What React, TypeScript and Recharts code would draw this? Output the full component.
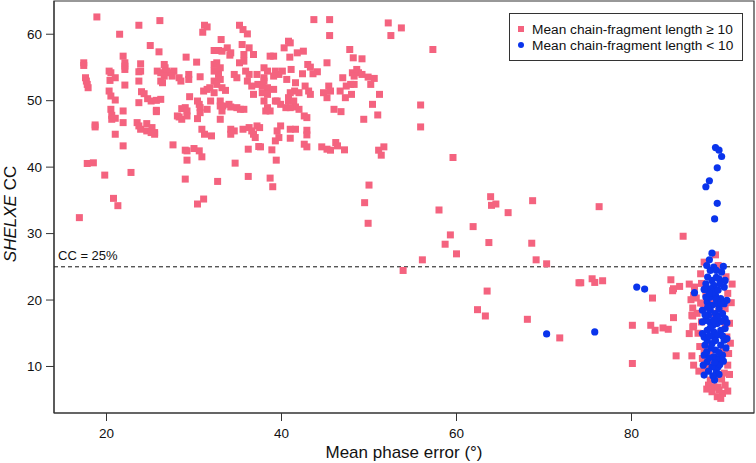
import { ScatterChart, Scatter, XAxis, YAxis, ReferenceLine, ReferenceArea, Legend } from 'recharts';

// mean phase error (deg), SHELXE CC (%)
const longFragments: [number, number][] = [
  [18.9, 62.6], [23.7, 61.35], [26.1, 62.05], [21.5, 60], [31.2, 61.35], [31.5, 61.1], [31.0, 60.3], [35.2, 61.35], [35.6, 60.7], [36.1, 60.05], [33.1, 59.2],
  [25.0, 58.3], [26.0, 57.35], [21.9, 56.7], [22.1, 55.7], [22.1, 55.2], [22.1, 54.7], [23.9, 55.55], [23.9, 54.45], [29.1, 56.55], [30.3, 55.8], [32.3, 57.55],
  [32.8, 57.55], [33.2, 57.45], [33.8, 57.95], [34.2, 57.2], [34.1, 56.85], [35.5, 58.45], [36.3, 57.95], [36.8, 56.95], [35.7, 56.95],
  [17.4, 55.7], [17.4, 55.3], [17.6, 53.45], [17.7, 52.95], [17.9, 51.95], [17.8, 52.45],
  [20.3, 54.45], [20.5, 54.2], [20.4, 53.05], [21.0, 53.45], [20.3, 51.45], [20.5, 50.7], [21.0, 50.1], [23.7, 52.95], [23.7, 54.35],
  [25.8, 54.45], [26.2, 54.2], [26.6, 55.45], [26.7, 54.95], [26.9, 54.45], [27.3, 54.2], [27.7, 54.45], [26.6, 53.7], [26.2, 52.95], [26.4, 52.7], [27.5, 53.7],
  [28.3, 53.45], [28.5, 52.95], [29.4, 53.95], [29.4, 53.2], [30.7, 53.6],
  [32.3, 54.45], [32.8, 53.95], [33.0, 53.2], [32.3, 52.95], [32.6, 52.45], [33.2, 51.95], [33.6, 51.55], [32.3, 55.45], [32.6, 55.7], [33.0, 54.95],
  [35.2, 55.7], [35.7, 55.95], [35.9, 54.45], [36.3, 53.95], [34.6, 53.95], [34.9, 53.45], [36.1, 52.95], [36.6, 52.2], [37.2, 53.95], [37.3, 52.45], [36.8, 50.95],
  [22.1, 52.35], [20.5, 48.7], [20.6, 47.8], [20.6, 47.2], [21.0, 47.35], [21.9, 48.45], [21.9, 46.7], [21.0, 44.95], [21.9, 43.2],
  [23.7, 49.7], [24.0, 51.35], [24.3, 51.05], [24.7, 50.3], [25.1, 49.95], [25.7, 50.05], [26.2, 50.2], [25.7, 48.55], [25.7, 48.35],
  [23.5, 46.7], [23.7, 46.2], [23.9, 45.7], [24.6, 46.55], [24.6, 45.45], [25.2, 45.95], [25.1, 45.2], [25.5, 45.2], [25.5, 44.95],
  [29.5, 50.6], [30.4, 49.95], [30.6, 49.45], [30.7, 48.95], [31.1, 51.45], [31.5, 51.7], [31.8, 51.95], [32.3, 51.2], [31.9, 49.95], [31.5, 48.7], [30.7, 48.2],
  [30.4, 47.3], [31.2, 44.95], [32.0, 44.7], [30.9, 45.7],
  [28.1, 47.7], [28.3, 47.55], [28.6, 48.8], [29.0, 48.95], [29.2, 48.45], [28.6, 47.2], [29.2, 47.7],
  [33.0, 49.95], [33.0, 49.2], [33.3, 49.2], [33.2, 48.45], [33.0, 47.2], [34.0, 49.45], [34.2, 49.05], [34.9, 48.95], [35.3, 48.7], [35.7, 48.7], [34.2, 45.7],
  [34.6, 45.45], [34.2, 44.95], [35.6, 45.7], [36.3, 45.95], [36.6, 45.45], [36.8, 44.95], [37.0, 44.45], [37.2, 46.2], [37.5, 45.95],
  [27.6, 43.35], [29.0, 42.55], [29.2, 42.45], [30.0, 42.8], [30.6, 42.45], [30.9, 41.55], [29.2, 41.05], [29.0, 38.2], [30.4, 34.45], [31.1, 35.2],
  [32.7, 37.85], [34.7, 40.6], [36.2, 38.6], [36.2, 42.7], [37.4, 43.1],
  [22.8, 39.2], [16.9, 32.4], [17.8, 40.55], [18.5, 40.65], [18.7, 46.35], [18.7, 46.05], [19.8, 38.8], [20.8, 35.3], [21.3, 34.2],
  [43.7, 62.2], [45.5, 62.2], [45.5, 59.8], [52.2, 61.7], [53.7, 60.95], [52.5, 59.8], [57.3, 57.7],
  [40.3, 57.95], [40.8, 58.95], [41.0, 58.7], [41.8, 57.2], [42.5, 57.45], [40.95, 56.55], [39.1, 56.7], [38.7, 56.7], [45.2, 55.7], [47.8, 57.7], [48.2, 56.45], [49.2, 56.3],
  [43.0, 55.45], [43.3, 55.05], [44.1, 54.35], [43.6, 54.05], [42.4, 54.05], [41.1, 54.7], [40.1, 54.45], [39.7, 53.95], [39.3, 54.45], [39.1, 53.7], [38.0, 54.95],
  [38.4, 54.45], [38.0, 53.45], [40.6, 53.2], [39.1, 51.7], [38.0, 52.95], [37.8, 52.2], [38.4, 51.95], [37.8, 51.2], [38.4, 50.95],
  [41.6, 52.7], [41.5, 51.45], [42.0, 51.2], [41.0, 51.2], [40.8, 50.45], [42.7, 52.2], [43.1, 51.45], [43.3, 50.95],
  [45.4, 52.2], [44.8, 51.2], [45.2, 50.45], [45.6, 51.45], [47.0, 53.45], [47.4, 52.2], [46.7, 51.45],
  [48.1, 54.2], [48.6, 54.7], [48.8, 54.2], [49.2, 53.95], [48.3, 53.7], [47.9, 52.45], [48.3, 52.45],
  [49.9, 53.55], [50.6, 53.35], [50.2, 52.45], [47.3, 50.45], [48.0, 50.95], [51.2, 50.95], [50.4, 49.45], [51.0, 47.85], [49.4, 47.2], [46.0, 48.7], [46.8, 48.35],
  [39.5, 49.95], [39.9, 49.45], [40.5, 48.95], [40.8, 49.95], [41.4, 49.95], [41.6, 49.05], [42.0, 48.7], [41.0, 48.95],
  [38.0, 49.95], [38.4, 48.95], [38.7, 48.45], [38.2, 48.45], [39.3, 49.95],
  [42.6, 47.7], [42.9, 47.45], [39.9, 46.2], [39.5, 45.45], [41.0, 45.7], [41.6, 45.7], [42.9, 45.55], [42.9, 44.85], [42.6, 43.45], [42.9, 43.05],
  [41.0, 44.35], [39.3, 43.95], [39.7, 44.45], [38.9, 42.6], [37.6, 43.05], [39.4, 41.05],
  [44.6, 43.05], [45.2, 42.7], [45.6, 42.55], [46.2, 43.7], [46.4, 43.2], [47.2, 42.6], [51.1, 42.55], [51.7, 43.05], [51.4, 41.8],
  [55.9, 49.35], [55.9, 46.05], [59.6, 41.45], [38.7, 38.35], [39.0, 37.05], [50.0, 37.3], [49.5, 34.65], [49.9, 31.55], [58.0, 33.55],
  [63.9, 35.55], [64.0, 34.25], [64.5, 34.45], [65.9, 33.15], [68.7, 34.95], [61.9, 31.05], [59.3, 29.8], [58.7, 28.4], [60.0, 26.95], [63.7, 28.65],
  [68.6, 28.55], [56.1, 26.05], [53.9, 24.45], [69.1, 26.05], [70.3, 25.45], [74.0, 22.6], [63.5, 21.35], [62.4, 18.55], [63.3, 17.6], [68.1, 17.1], [71.8, 14.3],
  [76.3, 34.05], [85.9, 29.6], [89.6, 26.8], [74.2, 22.6], [75.5, 23.2], [75.8, 22.65], [76.7, 22.9], [82.4, 20.3], [84.5, 23.05], [84.7, 21.4], [85.5, 22.05],
  [86.6, 22.4], [87.2, 21.95], [86.8, 20.05], [87.4, 20.3], [84.8, 17.35],
  [80.1, 16.2], [80.1, 10.45], [82.2, 16.2], [82.7, 15.45], [83.6, 15.8], [84.2, 15.6], [85.1, 11.6], [86.9, 11.6], [86.6, 14.95], [87.0, 15.95], [87.0, 17.6],
  [87.0, 18.8], [87.1, 10.2], [88.3, 25.7], [89.9, 25.2], [87.9, 23.95], [84.8, 21.7],
  [87.1, 20.7], [87.9, 19.55], [88.3, 18.95], [86.9, 17.7], [87.1, 16.05], [88.0, 16.7], [88.3, 12.45], [88.1, 11.2], [88.8, 10.2],
  [89.0, 7.95], [89.4, 6.95], [90.0, 6.45], [89.2, 6.2], [90.4, 5.95], [89.8, 5.45], [90.7, 7.2], [90.2, 5.2],
  [91.1, 11.95], [90.9, 14.45], [90.7, 16.45], [90.7, 18.7],
  [88.5, 21], [89, 20], [90, 19], [89.5, 18], [88.8, 13], [90.5, 12.5], [89, 12], [88.4, 9.5], [90.6, 9], [89.6, 8.5], [88.2, 19.5], [91, 21], [91.2, 16.5],
  [87.6, 15], [87.8, 13], [88, 22.5], [90.8, 23.5], [91.3, 13.5], [87.5, 18], [89.3, 10.6], [91, 10.2], [88.8, 7.2], [90.3, 8.1], [89.9, 6.9],
  [91.4, 19.6], [91.5, 22.4], [91.2, 8.8], [87.7, 9.3], [88.6, 6.6], [91.0, 6.3],
];

const shortFragments: [number, number][] = [
  [89.6, 42.95], [90.0, 42.55], [90.3, 41.6], [89.8, 39.9], [88.9, 37.95], [88.5, 37.05], [89.8, 34.55], [89.5, 32.2], [89.2, 27.05], [88.9, 26.05],
  [80.6, 21.95], [81.5, 21.65], [87.2, 21.1], [75.8, 15.2], [70.3, 14.9],
  [88.6, 25.2], [89.4, 24.95], [90.5, 25.05], [89.7, 24.45], [89.0, 24.45], [88.7, 23.45], [89.2, 22.95], [90.0, 23.2], [90.7, 22.95], [88.5, 22.45],
  [89.4, 22.2], [90.6, 21.95], [89.0, 21.7],
  [88.3, 8.7], [89.5, 7.95], [89.7, 9.2], [89.9, 9.95], [89.2, 9.95], [88.65, 10.7], [88.3, 11.7], [88.6, 12.2], [89.4, 11.45], [90.0, 11.2], [90.4, 11.7],
  [89.6, 12.45], [90.2, 13.2], [90.6, 13.95], [90.9, 14.2], [89.2, 13.45], [88.65, 13.95], [88.3, 14.45], [88.1, 14.95], [88.65, 15.45], [89.4, 15.2],
  [90.2, 15.45], [90.7, 15.7], [89.8, 16.45], [88.96, 16.7], [88.5, 16.95], [88.1, 16.7], [88.8, 17.7], [89.6, 17.95], [90.4, 17.95], [90.7, 17.2],
  [90.0, 18.7], [89.2, 19.2], [88.65, 19.7], [89.0, 20.45], [89.6, 20.7], [90.2, 20.2], [90.6, 19.45], [90.9, 19.95], [88.5, 20.45], [88.1, 18.45],
  [89.8, 19.45], [89.0, 18.45],
  [89.3, 21.2], [89.9, 21.5], [88.9, 21.0], [90.3, 16.8], [89.5, 14.3], [89.9, 14.8], [89.1, 12.8], [90.1, 10.3], [89.5, 10.6], [88.9, 11.3],
  [89.9, 17.4], [89.3, 16.2], [89.7, 23.4], [90.3, 24.2],
  [88.2, 10.2], [88.4, 13.2], [88.4, 17.8], [90.8, 12.8], [90.5, 10.8], [90.9, 16.6], [90.1, 22.4], [88.3, 21.6], [89.0, 15.8], [90.4, 14.6],
  [88.8, 9.3], [90.0, 8.8], [89.3, 8.6], [89.6, 13.9], [90.0, 12.1], [88.9, 14.6], [89.7, 20.0], [89.4, 17.0], [88.7, 18.9], [90.2, 19.6],
];

const xTicks = [20, 40, 60, 80];
const yTicks = [10, 20, 30, 40, 50, 60];
const ccCutoff = 25;

const PINK = '#f4637f';
const BLUE = '#0a34ec';
const AXIS = '#333';
const FONT = '"Liberation Sans", Arial, Helvetica, sans-serif';

const toPoints = (rows: [number, number][]) => rows.map(([x, y]) => ({ x, y }));

const Square = (props: any) => {
  const { cx, cy } = props;
  if (cx == null || cy == null) return null;
  return <rect x={cx - 3.5} y={cy - 3.5} width={7} height={7} fill={PINK} />;
};

const Dot = (props: any) => {
  const { cx, cy } = props;
  if (cx == null || cy == null) return null;
  return <circle cx={cx} cy={cy} r={3.6} fill={BLUE} />;
};

const YTitle = ({ viewBox }: any) => {
  const cx = 16;
  const cy = viewBox.y + viewBox.height / 2 + 7;
  return (
    <text x={cx} y={cy} transform={`rotate(-90 ${cx} ${cy})`} textAnchor="middle" fontSize={17} fontFamily={FONT} fill="#111">
      <tspan fontStyle="italic">SHELXE</tspan> CC
    </text>
  );
};

const XTitle = ({ viewBox }: any) => (
  <text x={viewBox.x + viewBox.width / 2} y={458} textAnchor="middle" fontSize={17} fontFamily={FONT} fill="#111">
    Mean phase error (°)
  </text>
);

const CutoffLabel = ({ viewBox }: any) => (
  <text x={viewBox.x + 4} y={viewBox.y - 7} fontSize={13} fontFamily={FONT} fill="#111">
    CC = 25%
  </text>
);

function FragmentLegend() {
  const row = { display: 'flex', alignItems: 'center', height: 16 };
  return (
    <div style={{ width: 234, height: 48, border: `1px solid ${AXIS}`, background: '#fff', fontFamily: FONT, fontSize: 13.7, color: '#111', paddingTop: 7, boxSizing: 'border-box' }}>
      <div style={row}>
        <span style={{ width: 6, height: 6, background: PINK, marginLeft: 8, marginRight: 8 }} />
        <span>Mean chain-fragment length ≥ 10</span>
      </div>
      <div style={row}>
        <span style={{ width: 6, height: 6, borderRadius: 3, background: BLUE, marginLeft: 8, marginRight: 8 }} />
        <span>Mean chain-fragment length &lt; 10</span>
      </div>
    </div>
  );
}

export default function App() {
  return (
    <div style={{ position: 'fixed', left: 0, top: 0, background: '#fff' }}>
      <ScatterChart width={756} height={463} margin={{ top: 1, right: 2, bottom: 0, left: 0 }}>
        <XAxis
          type="number"
          dataKey="x"
          domain={[14, 94]}
          ticks={xTicks}
          allowDataOverflow
          height={50}
          stroke={AXIS}
          tickSize={8}
          tickMargin={7}
          tick={{ fill: '#111', fontSize: 13.5, fontFamily: FONT }}
          label={<XTitle />}
        />
        <YAxis
          type="number"
          dataKey="y"
          domain={[3, 65]}
          ticks={yTicks}
          allowDataOverflow
          width={54}
          stroke={AXIS}
          tickSize={8}
          tickMargin={4}
          tick={{ fill: '#111', fontSize: 13.5, fontFamily: FONT }}
          label={<YTitle />}
        />
        <ReferenceArea x1={14} x2={94} y1={3} y2={65} fill="none" stroke={AXIS} strokeWidth={1.2} />
        <ReferenceLine y={ccCutoff} stroke="#111" strokeDasharray="4 3" label={<CutoffLabel />} />
        <Scatter name="long" data={toPoints(longFragments)} shape={Square} isAnimationActive={false} />
        <Scatter name="short" data={toPoints(shortFragments)} shape={Dot} isAnimationActive={false} />
        <Legend
          layout="vertical"
          align="center"
          verticalAlign="middle"
          content={<FragmentLegend />}
          wrapperStyle={{ top: 13, left: 509, width: 234, height: 48 }}
        />
      </ScatterChart>
    </div>
  );
}
